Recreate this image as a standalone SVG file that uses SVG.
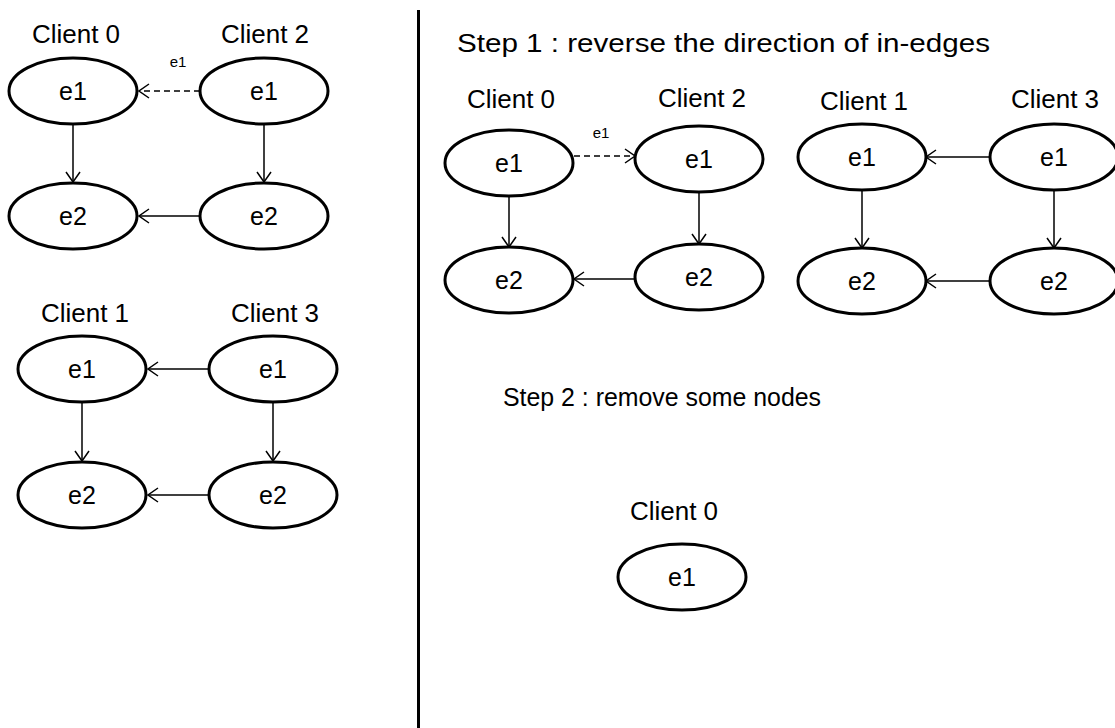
<svg xmlns="http://www.w3.org/2000/svg" width="1115" height="728" viewBox="0 0 1115 728">
  <style>
    text { font-family: "Liberation Sans", Arial, sans-serif; fill: #000; }
    .lbl { font-size: 26px; text-anchor: middle; }
    .step { font-size: 26px; }
    .edge-lbl { font-size: 15px; text-anchor: middle; }
    .node ellipse { fill: #fff; stroke: #000; stroke-width: 3; }
    .node text { font-size: 25px; text-anchor: middle; }
    .edge { stroke: #000; stroke-width: 1.5; fill: none; marker-end: url(#arrow); }
    .dash { stroke-dasharray: 6 4; }
  </style>
  <defs>
    <marker id="arrow" viewBox="0 0 12 16" refX="11" refY="8" markerWidth="12" markerHeight="16" markerUnits="userSpaceOnUse" orient="auto">
      <path d="M1,1 L11,8 L1,15" fill="none" stroke="#000" stroke-width="1.5"/>
    </marker>
  </defs>

  <rect width="1115" height="728" fill="#fff"/>

  <!-- divider between the input graph and the steps -->
  <line x1="418.5" y1="10" x2="418.5" y2="728" stroke="#000" stroke-width="3"/>

  <!-- captions -->
  <g id="captions">
    <text class="lbl" x="76" y="43">Client 0</text>
    <text class="lbl" x="265" y="43">Client 2</text>
    <text class="lbl" x="85" y="322">Client 1</text>
    <text class="lbl" x="275" y="322">Client 3</text>
    <text class="step" x="457" y="52" textLength="533" lengthAdjust="spacingAndGlyphs">Step 1 : reverse the direction of in-edges</text>
    <text class="lbl" x="511" y="108">Client 0</text>
    <text class="lbl" x="702" y="107">Client 2</text>
    <text class="lbl" x="864" y="110">Client 1</text>
    <text class="lbl" x="1055" y="108">Client 3</text>
    <text class="step" x="503" y="406" textLength="318" lengthAdjust="spacingAndGlyphs">Step 2 : remove some nodes</text>
    <text class="lbl" x="674" y="520">Client 0</text>
  </g>

  <!-- connectors -->
  <g id="connectors">
    <!-- original graph, clients 0 and 2 -->
    <line class="edge dash" x1="200" y1="91" x2="139" y2="91"/>
    <text class="edge-lbl" x="178" y="67">e1</text>
    <line class="edge" x1="73" y1="124" x2="73" y2="182"/>
    <line class="edge" x1="264" y1="124" x2="264" y2="182"/>
    <line class="edge" x1="200" y1="216" x2="139" y2="216"/>
    <!-- original graph, clients 1 and 3 -->
    <line class="edge" x1="209" y1="369" x2="148" y2="369"/>
    <line class="edge" x1="82" y1="402" x2="82" y2="461"/>
    <line class="edge" x1="273" y1="402" x2="273" y2="461"/>
    <line class="edge" x1="209" y1="495" x2="148" y2="495"/>
    <!-- step 1, clients 0 and 2 -->
    <line class="edge dash" x1="574" y1="156" x2="635" y2="156"/>
    <text class="edge-lbl" x="601" y="138">e1</text>
    <line class="edge" x1="509" y1="196" x2="509" y2="247"/>
    <line class="edge" x1="699" y1="192" x2="699" y2="244"/>
    <line class="edge" x1="635" y1="279" x2="574" y2="279"/>
    <!-- step 1, clients 1 and 3 -->
    <line class="edge" x1="990" y1="157" x2="926" y2="157"/>
    <line class="edge" x1="862" y1="190" x2="862" y2="248"/>
    <line class="edge" x1="1054" y1="190" x2="1054" y2="248"/>
    <line class="edge" x1="990" y1="281" x2="926" y2="281"/>
  </g>

  <!-- original graph -->
  <g id="c0-e1" class="node"><ellipse cx="73" cy="91" rx="64" ry="33"/><text x="73" y="100">e1</text></g>
  <g id="c0-e2" class="node"><ellipse cx="73" cy="216" rx="64" ry="33"/><text x="73" y="225">e2</text></g>
  <g id="c2-e1" class="node"><ellipse cx="264" cy="91" rx="64" ry="33"/><text x="264" y="100">e1</text></g>
  <g id="c2-e2" class="node"><ellipse cx="264" cy="216" rx="64" ry="33"/><text x="264" y="225">e2</text></g>
  <g id="c1-e1" class="node"><ellipse cx="82" cy="369" rx="64" ry="33"/><text x="82" y="378">e1</text></g>
  <g id="c1-e2" class="node"><ellipse cx="82" cy="495" rx="64" ry="33"/><text x="82" y="504">e2</text></g>
  <g id="c3-e1" class="node"><ellipse cx="273" cy="369" rx="64" ry="33"/><text x="273" y="378">e1</text></g>
  <g id="c3-e2" class="node"><ellipse cx="273" cy="495" rx="64" ry="33"/><text x="273" y="504">e2</text></g>

  <!-- step 1 -->
  <g id="s1-c0-e1" class="node"><ellipse cx="509" cy="163" rx="64" ry="33"/><text x="509" y="172">e1</text></g>
  <g id="s1-c0-e2" class="node"><ellipse cx="509" cy="280" rx="64" ry="33"/><text x="509" y="289">e2</text></g>
  <g id="s1-c2-e1" class="node"><ellipse cx="699" cy="159" rx="64" ry="33"/><text x="699" y="168">e1</text></g>
  <g id="s1-c2-e2" class="node"><ellipse cx="699" cy="277" rx="64" ry="33"/><text x="699" y="286">e2</text></g>
  <g id="s1-c1-e1" class="node"><ellipse cx="862" cy="157" rx="64" ry="33"/><text x="862" y="166">e1</text></g>
  <g id="s1-c1-e2" class="node"><ellipse cx="862" cy="281" rx="64" ry="33"/><text x="862" y="290">e2</text></g>
  <g id="s1-c3-e1" class="node"><ellipse cx="1054" cy="157" rx="64" ry="33"/><text x="1054" y="166">e1</text></g>
  <g id="s1-c3-e2" class="node"><ellipse cx="1054" cy="281" rx="64" ry="33"/><text x="1054" y="290">e2</text></g>

  <!-- step 2 -->
  <g id="s2-c0-e1" class="node"><ellipse cx="682" cy="577" rx="64" ry="33"/><text x="682" y="586">e1</text></g>
</svg>
